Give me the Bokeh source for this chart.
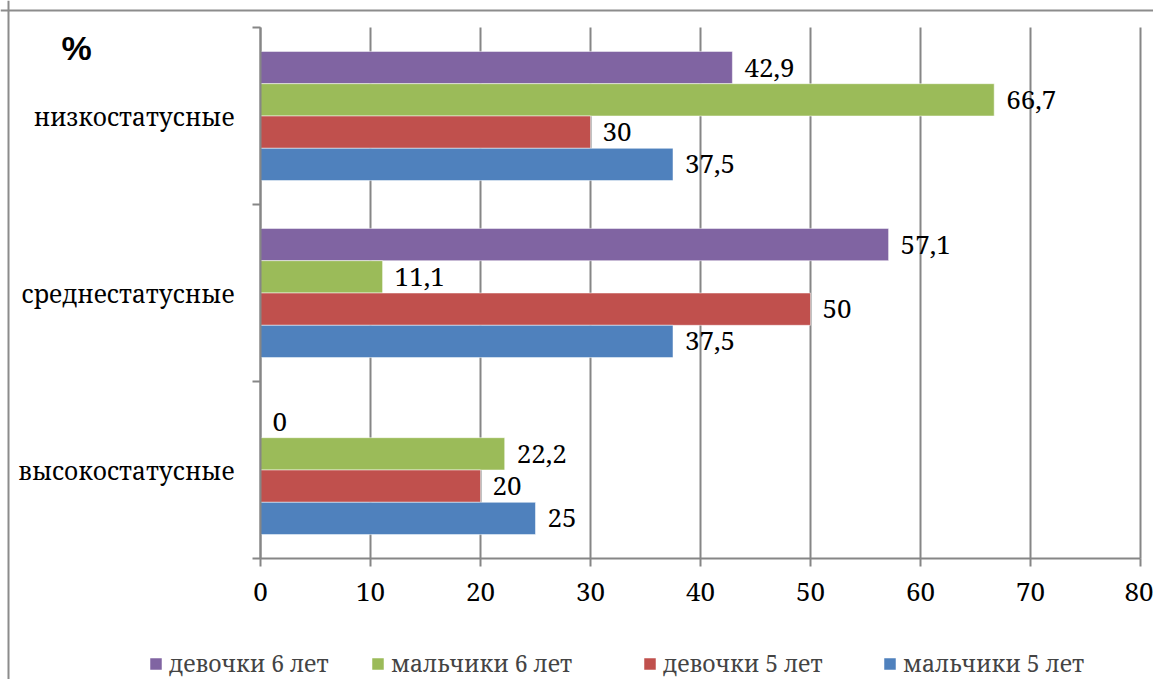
from bokeh.plotting import figure
from bokeh.models import (ColumnDataSource, Legend, LegendItem, LabelSet,
                          FixedTicker, Label, Span, Range1d)
from bokeh.core.properties import value
from bokeh.embed import file_html
from bokeh.resources import INLINE

categories = ["высокостатусные", "среднестатусные", "низкостатусные"]
series_names = ["девочки 6 лет", "мальчики 6 лет", "девочки 5 лет", "мальчики 5 лет"]
girls6 = [0, 57.1, 42.9]
boys6 = [22.2, 11.1, 66.7]
girls5 = [20, 50, 30]
boys5 = [25, 37.5, 37.5]
x_ticks = [0, 10, 20, 30, 40, 50, 60, 70, 80]

series_values = [girls6, boys6, girls5, boys5]
colors = ["#8064A2", "#9BBB59", "#C0504D", "#4F81BD"]

# layout (pixels)
W, H = 1153, 679
PX0, PXU = 260, 11.0          # pixel of x=0, pixels per unit
YTOP, BAND = 27, 177.0        # pixel of top band edge, pixels per band
LEGEND_X = [148, 370, 642, 882]
n = len(categories)
y_hi = n - 0.5
x_range = Range1d(-PX0 / PXU, (W - PX0) / PXU)
y_range = Range1d(y_hi - (H - YTOP) / BAND, y_hi + YTOP / BAND)

BW = 0.1825
offsets = [1.5 * BW, 0.5 * BW, -0.5 * BW, -1.5 * BW]

SERIF = "Noto Serif, DejaVu Serif"
GRAY = "#868686"

p = figure(width=W, height=H, output_backend="svg", toolbar_location=None,
           x_range=x_range, y_range=y_range,
           min_border_left=0, min_border_right=0, min_border_top=0, min_border_bottom=0)
p.outline_line_color = None
p.xgrid.grid_line_color = None
p.ygrid.grid_line_color = None

# vertical grid lines over the category bands
p.segment(x0=x_ticks, x1=x_ticks, y0=[-0.5] * len(x_ticks), y1=[y_hi] * len(x_ticks),
          line_color=GRAY, line_width=2)

def fmt(v):
    return ("%g" % v).replace(".", ",")

idx = list(range(n))
renderers = []
for name, vals, col, off in zip(series_names, series_values, colors, offsets):
    src = ColumnDataSource(dict(y=[i + off for i in idx], val=vals, lab=[fmt(v) for v in vals]))
    r = p.hbar(y="y", right="val", left=0, height=BW, source=src,
               fill_color=col, line_color="white", line_alpha=0.5, line_width=1)
    renderers.append(r)
    ls = LabelSet(x="val", y="y", text="lab", source=src, x_offset=12,
                  text_baseline="middle", text_font=value(SERIF),
                  text_font_size="26px", text_color="black")
    p.add_layout(ls)

# x axis
xa = p.xaxis[0]
xa.fixed_location = -0.5
xa.bounds = (x_ticks[0], x_ticks[-1])
xa.ticker = FixedTicker(ticks=x_ticks)
xa.axis_line_color = GRAY
xa.axis_line_width = 2
xa.major_tick_line_color = GRAY
xa.major_tick_line_width = 2
xa.major_tick_out = 8
xa.major_tick_in = 0
xa.minor_tick_line_color = None
xa.major_label_text_font = SERIF
xa.major_label_text_font_size = "26px"
xa.major_label_text_color = "black"
xa.major_label_standoff = 16

# y axis
ya = p.yaxis[0]
ya.fixed_location = 0
ya.bounds = (-0.5, y_hi)
ya.ticker = FixedTicker(ticks=idx, minor_ticks=[i - 0.5 for i in range(n + 1)])
ya.major_label_overrides = {i: c for i, c in zip(idx, categories)}
ya.axis_line_color = GRAY
ya.axis_line_width = 2
ya.major_tick_line_color = None
ya.major_tick_out = 0
ya.major_tick_in = 0
ya.minor_tick_line_color = GRAY
ya.minor_tick_line_width = 2
ya.minor_tick_out = 8
ya.minor_tick_in = 0
ya.major_label_text_font = SERIF
ya.major_label_text_font_size = "24.5px"
ya.major_label_text_color = "black"
ya.major_label_standoff = 18

# outer chart border (left and top)
p.add_layout(Span(location=(8 - PX0) / PXU, dimension="height", line_color="#8c8c8c", line_width=2))
p.add_layout(Span(location=y_hi + (YTOP - 10) / BAND, dimension="width", line_color="#8c8c8c", line_width=2))

pct = Label(x=61, y=H - 47.5, x_units="screen", y_units="screen", text="%",
            text_font="Liberation Sans", text_font_style="bold", text_font_size="34px",
            text_baseline="middle", text_color="black")
p.add_layout(pct)

for name, r, lx in zip(series_names, renderers, LEGEND_X):
    lg = Legend(items=[LegendItem(label=name, renderers=[r])], orientation="horizontal",
                location=(lx, 0), glyph_width=15, glyph_height=15, label_standoff=6,
                label_text_font=SERIF, label_text_font_size="23px",
                border_line_color=None, background_fill_alpha=0, padding=0, margin=0)
    p.add_layout(lg, "center")

open("out.html", "w").write(file_html(p, INLINE))
